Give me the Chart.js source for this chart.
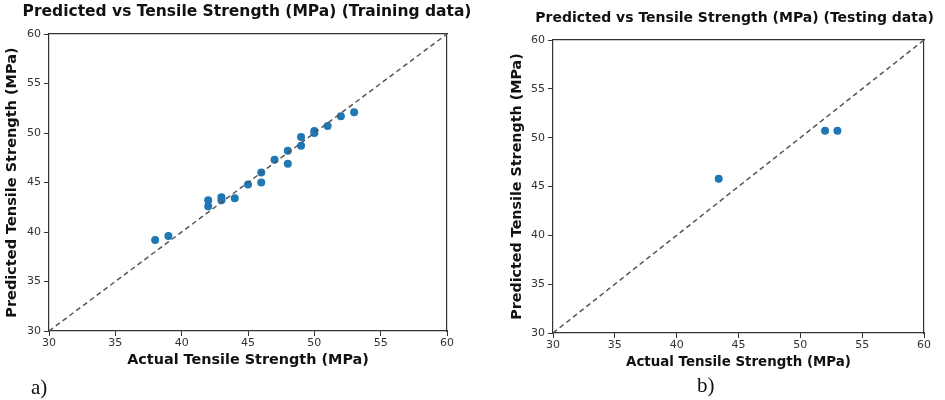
<!DOCTYPE html>
<html>
<head>
<meta charset="utf-8">
<script src="https://cdn.jsdelivr.net/npm/chart.js@4/dist/chart.umd.min.js"></script>
<style>
  body { margin: 0; background: #fff; width: 945px; height: 400px; position: relative; overflow: hidden; }
  canvas { position: absolute; top: 0; }
  #trainCanvas { left: 0; }
  #testCanvas { left: 480px; }
  .panel { position: absolute; font-family: "Liberation Serif", serif; font-size: 21px; line-height: 1; color: #111; }
</style>
</head>
<body>
<canvas id="trainCanvas" width="470" height="400"></canvas>
<canvas id="testCanvas" width="465" height="400"></canvas>
<div class="panel" style="left:31px; top:377px;">a)</div>
<div class="panel" style="left:697px; top:375px;">b)</div>
<script>
const axisTicks = [30, 35, 40, 45, 50, 55, 60];
const idealLine = [30, 60];

const trainActual = [38, 39, 42, 42, 43, 43, 44, 45, 46, 46, 47, 48, 48, 49, 49, 50, 50, 51, 52, 53];
const trainPredicted = [39.2, 39.6, 43.2, 42.6, 43.5, 43.2, 43.4, 44.8, 45.0, 46.0, 47.3, 48.2, 46.9, 49.6, 48.7, 50.2, 50.0, 50.7, 51.7, 52.1];

const testActual = [43.4, 52, 53];
const testPredicted = [45.8, 50.7, 50.7];

const titleTraining = "Predicted vs Tensile Strength (MPa) (Training data)";
const titleTesting = "Predicted vs Tensile Strength (MPa) (Testing data)";
const xLabel = "Actual Tensile Strength (MPa)";
const yLabel = "Predicted Tensile Strength (MPa)";

const SANS = "'DejaVu Sans', sans-serif";
const AXIS_COLOR = "#333";

// title centred over the plot box, like a matplotlib axes title
const axesTitle = {
  id: "axesTitle",
  afterDraw(chart, args, opts) {
    const { ctx, chartArea } = chart;
    ctx.save();
    ctx.font = opts.font;
    ctx.fillStyle = "#111";
    ctx.textAlign = "center";
    ctx.textBaseline = "middle";
    ctx.fillText(opts.text, (chartArea.left + chartArea.right) / 2 + opts.shift, opts.y);
    ctx.restore();
  }
};

const toPoints = (xs, ys) => xs.map((x, i) => ({ x: x, y: ys[i] }));

const spine = (position, axis) => ({
  type: "linear",
  position: position,
  axis: axis,
  min: 30,
  max: 60,
  ticks: { display: false },
  grid: { display: false },
  border: { display: true, color: AXIS_COLOR, width: 1.2 },
  afterFit: (s) => { if (axis === "x") s.height = 0; else s.width = 0; }
});

const drawScatter = (canvasId, actual, predicted, cfg) => {
  const canvas = document.getElementById(canvasId);

  const idealData = {
    type: "line",
    data: toPoints(idealLine, idealLine),
    borderColor: "#555",
    borderWidth: 1.5,
    borderDash: [5, 3.5],
    pointRadius: 0,
    fill: false,
    showLine: true,
  };
  const pointData = {
    data: toPoints(actual, predicted),
    backgroundColor: "#1f77b4",
    borderWidth: 0,
    pointRadius: 4,
  };

  new Chart(canvas, {
    type: "scatter",
    data: { datasets: [idealData, pointData] },
    plugins: [axesTitle],
    options: {
      responsive: false,
      animation: false,
      events: [],
      layout: { padding: { left: 0, right: cfg.padRight, top: cfg.padTop, bottom: 0 } },
      plugins: {
        legend: { display: false },
        tooltip: { enabled: false },
        axesTitle: { text: cfg.title, font: cfg.titleFont, y: cfg.titleY, shift: cfg.titleShift },
      },
      scales: {
        x: {
          type: "linear",
          position: "bottom",
          min: 30,
          max: 60,
          afterBuildTicks: (s) => { s.ticks = axisTicks.map((v) => ({ value: v })); },
          afterFit: (s) => { s.height = cfg.xHeight; },
          ticks: { font: { family: SANS, size: 11 }, color: AXIS_COLOR, padding: 1, maxRotation: 0 },
          grid: { display: true, drawOnChartArea: false, tickLength: 5, color: AXIS_COLOR, lineWidth: 1 },
          border: { color: AXIS_COLOR, width: 1.2 },
          title: {
            display: true,
            text: xLabel,
            color: "#111",
            font: { family: SANS, size: cfg.xTitleSize, weight: "bold" },
            padding: { top: 0, bottom: cfg.xTitlePad },
          },
        },
        y: {
          type: "linear",
          position: "left",
          min: 30,
          max: 60,
          afterBuildTicks: (s) => { s.ticks = axisTicks.map((v) => ({ value: v })); },
          afterFit: (s) => { s.width = cfg.yWidth; },
          ticks: { font: { family: SANS, size: 11 }, color: AXIS_COLOR, padding: cfg.yTickPad },
          grid: { display: true, drawOnChartArea: false, tickLength: 5, color: AXIS_COLOR, lineWidth: 1 },
          border: { color: AXIS_COLOR, width: 1.2 },
          title: {
            display: true,
            text: yLabel,
            color: "#111",
            font: { family: SANS, size: cfg.yTitleSize, weight: "bold" },
            padding: { top: cfg.yTitlePad, bottom: 0 },
          },
        },
        xTop: spine("top", "x"),
        yRight: spine("right", "y"),
      },
    },
  });
};

drawScatter("trainCanvas", trainActual, trainPredicted, {
  title: titleTraining,
  titleFont: "bold 15.5px " + SANS,
  titleY: 12,
  titleShift: -1,
  padTop: 34,
  padRight: 23,
  xHeight: 69,
  yWidth: 49,
  xTitleSize: 14.4,
  xTitlePad: 31,
  yTitleSize: 14.5,
  yTitlePad: 4,
  yTickPad: 3,
});

drawScatter("testCanvas", testActual, testPredicted, {
  title: titleTesting,
  titleFont: "bold 14px " + SANS,
  titleY: 18,
  titleShift: -4,
  padTop: 40,
  padRight: 21,
  xHeight: 67,
  yWidth: 73,
  xTitleSize: 13.4,
  xTitlePad: 29,
  yTitleSize: 14.3,
  yTitlePad: 29,
  yTickPad: 3,
});
</script>
</body>
</html>
